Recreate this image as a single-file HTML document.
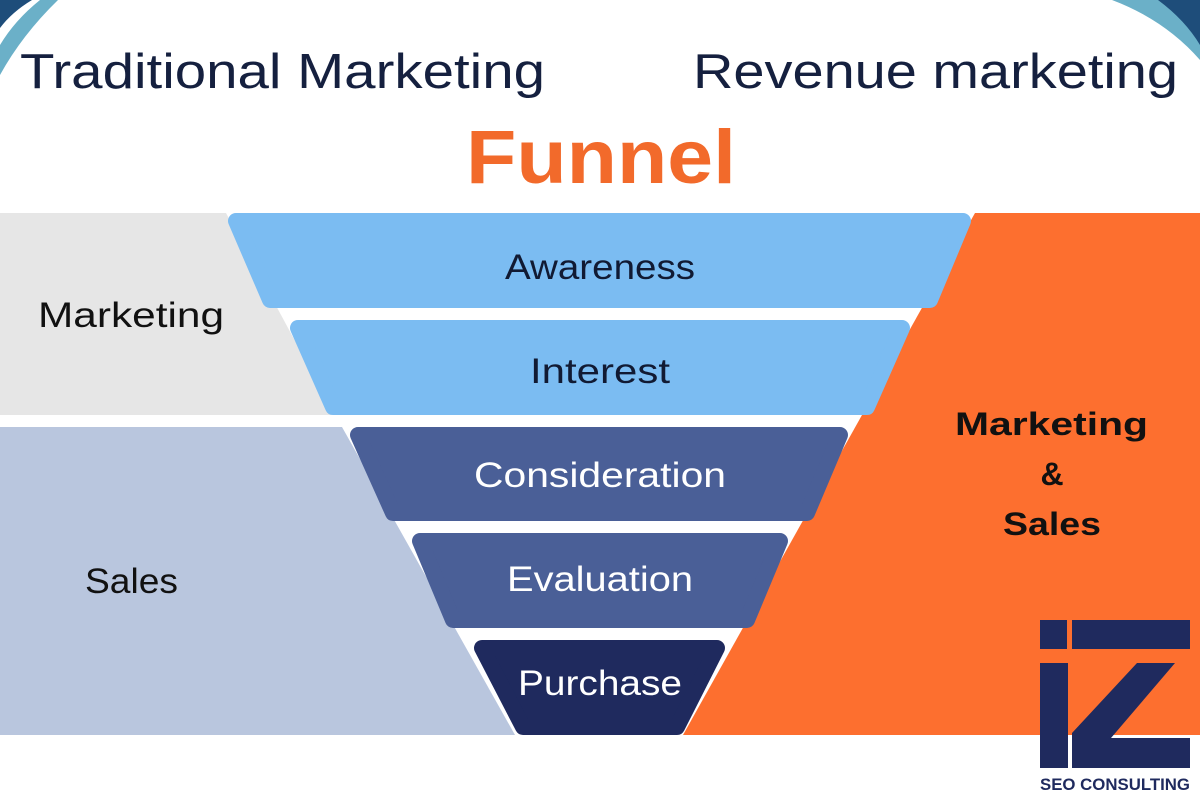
<!DOCTYPE html>
<html><head><meta charset="utf-8"><style>
html,body{margin:0;padding:0;background:#fff}
svg{display:block}
text{font-family:"Liberation Sans",sans-serif}
</style></head><body>
<svg width="1200" height="800" viewBox="0 0 1200 800" xmlns="http://www.w3.org/2000/svg">
<rect width="1200" height="800" fill="#fff"/>
<path d="M0,0 L32,0 Q12,12 0,28 Z" fill="#1e4d7a"/>
<path d="M40,0 L58,0 Q22,35 0,75 L0,45 Q15,20 40,0 Z" fill="#6bb0c8"/>
<path d="M1112,0 L1160,0 Q1185,20 1200,40 L1200,60 Q1165,20 1112,0 Z" fill="#6bb0c8"/>
<path d="M1158,0 L1200,0 L1200,45 Q1185,20 1158,0 Z" fill="#1e4d7a"/>
<text x="20" y="88" font-size="49" fill="#15203f" textLength="525" lengthAdjust="spacingAndGlyphs">Traditional Marketing</text>
<text x="693" y="88" font-size="49" fill="#15203f" textLength="485" lengthAdjust="spacingAndGlyphs">Revenue marketing</text>
<text x="466" y="183" font-size="76" font-weight="bold" fill="#f26a2b" textLength="270" lengthAdjust="spacingAndGlyphs">Funnel</text>
<polygon points="0,213 226,213 335,415 0,415" fill="#e6e6e6"/>
<polygon points="0,427 342,427 515,735 0,735" fill="#b9c6de"/>
<polygon points="975,213 1200,213 1200,735 683,735" fill="#fd6f2f"/>
<g stroke-linejoin="round" stroke-width="16">
<polygon points="236,221 963,221 930,300 270,300" fill="#7bbcf2" stroke="#7bbcf2"/>
<polygon points="298,328 902,328 867,407 333,407" fill="#7bbcf2" stroke="#7bbcf2"/>
<polygon points="358,435 840,435 807,513 393,513" fill="#4a5f97" stroke="#4a5f97"/>
<polygon points="420,541 780,541 747,620 453,620" fill="#4a5f97" stroke="#4a5f97"/>
<polygon points="482,648 717,648 677,727 523,727" fill="#1f2a5e" stroke="#1f2a5e"/>
</g>
<g font-size="35" lengthAdjust="spacingAndGlyphs">
<text x="505" y="279" fill="#111a33" textLength="190" lengthAdjust="spacingAndGlyphs">Awareness</text>
<text x="530" y="383" fill="#111a33" textLength="140" lengthAdjust="spacingAndGlyphs">Interest</text>
<text x="474" y="487" fill="#fff" textLength="252" lengthAdjust="spacingAndGlyphs">Consideration</text>
<text x="507" y="591" fill="#fff" textLength="186" lengthAdjust="spacingAndGlyphs">Evaluation</text>
<text x="518" y="695" fill="#fff" textLength="164" lengthAdjust="spacingAndGlyphs">Purchase</text>
</g>
<text x="38" y="327" font-size="35" fill="#111" textLength="186" lengthAdjust="spacingAndGlyphs">Marketing</text>
<text x="85" y="593" font-size="35" fill="#111" textLength="93" lengthAdjust="spacingAndGlyphs">Sales</text>
<g font-size="32" font-weight="bold" fill="#111">
<text x="955" y="435" textLength="193" lengthAdjust="spacingAndGlyphs">Marketing</text>
<text x="1052" y="485" text-anchor="middle">&amp;</text>
<text x="1003" y="535" textLength="98" lengthAdjust="spacingAndGlyphs">Sales</text>
</g>
<g fill="#1f2a5e">
<rect x="1040" y="620" width="27" height="29"/>
<rect x="1072" y="620" width="118" height="29"/>
<rect x="1040" y="663" width="28" height="105"/>
<polygon points="1137,663 1175,663 1111,738 1190,738 1190,768 1072,768 1072,733"/>
</g>
<text x="1040" y="790" font-size="17" font-weight="bold" fill="#1f2a5e" textLength="150" lengthAdjust="spacingAndGlyphs">SEO CONSULTING</text>
</svg>
</body></html>
